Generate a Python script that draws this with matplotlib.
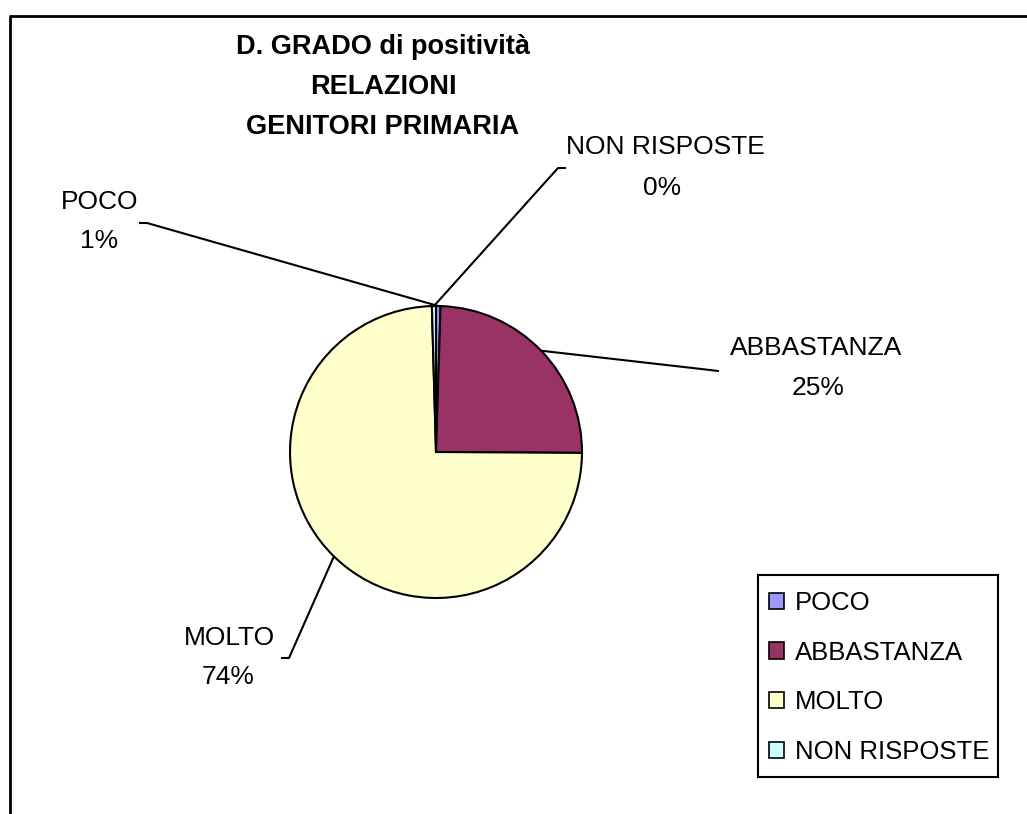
import numpy as np
import matplotlib
matplotlib.use("Agg")
import matplotlib.pyplot as plt
from matplotlib.patches import Patch, Rectangle

categories = ["POCO", "ABBASTANZA", "MOLTO", "NON RISPOSTE"]
values = [0.5, 24.6, 74.45, 0.45]
pct_labels = ["1%", "25%", "74%", "0%"]
colors = ["#9999FF", "#993366", "#FFFFCC", "#CCFFFF"]
title_lines = ["D. GRADO di positività", "RELAZIONI", "GENITORI PRIMARIA"]

W, H = 1027, 814
fig = plt.figure(figsize=(W / 100, H / 100), dpi=100)
plt.rcParams['font.family'] = ['Liberation Sans', 'DejaVu Sans']

# overlay axes in pixel coords
ov = fig.add_axes([0, 0, 1, 1])
ov.set_xlim(0, W)
ov.set_ylim(H, 0)
ov.axis("off")

cx, cy, R = 436, 452, 146
pa = fig.add_axes([(cx - R) / W, (H - cy - R) / H, 2 * R / W, 2 * R / H])
wedges, _ = pa.pie(values, colors=colors, startangle=90, counterclock=False,
                   wedgeprops=dict(edgecolor="black", linewidth=1.5))
pa.set_xlim(-1, 1)
pa.set_ylim(-1, 1)
pa.set_aspect("auto")
pa.axis("off")

# frame
ov.plot([10, 10], [H, 16], color="black", lw=2, solid_capstyle="butt")
ov.plot([9, W], [16, 16], color="black", lw=2, solid_capstyle="butt")

fs = 19
for i, (t, yy) in enumerate(zip(title_lines, [47, 87, 127])):
    ov.text(383, yy, t, ha="center", va="center", fontsize=fs + 0.5, fontweight="bold")

# label layout: (name center, pct center, tick start, tick end)
layout = {
    "POCO": ((100, 202), (99, 241), (140, 223), (147, 223)),
    "ABBASTANZA": ((816, 348), (818, 388), (718, 371), (710, 370)),
    "MOLTO": ((229, 638), (228, 677), (282, 658), (289, 658)),
    "NON RISPOSTE": ((665, 147), (662, 188), (565, 168), (558, 168)),
}
for w, name, pl in zip(wedges, categories, pct_labels):
    mid = np.deg2rad((w.theta1 + w.theta2) / 2)
    px = cx + R * np.cos(mid)
    py = cy - R * np.sin(mid)
    (nx, ny), (qx, qy), t0, t1 = layout[name]
    ov.plot([t0[0], t1[0], px], [t0[1], t1[1], py], color="black", lw=1.5)
    ov.text(nx, ny, name, ha="center", va="center", fontsize=fs)
    ov.text(qx, qy, pl, ha="center", va="center", fontsize=fs)

# legend box
ov.add_patch(Rectangle((758, 575), 240, 202, facecolor="white",
                       edgecolor="black", linewidth=1.5, zorder=3))
handles = [Patch(facecolor=c, edgecolor="black", linewidth=1.2) for c in colors]
leg = fig.legend(handles, categories, loc="center left",
                 bbox_to_anchor=(769 / W, 1 - 677.5 / H), fontsize=18.5,
                 frameon=False,
                 handlelength=0.6, handleheight=0.6, handletextpad=0.4,
                 labelspacing=1.0, borderpad=0, borderaxespad=0)
leg.set_zorder(5)

fig.savefig("out.png", dpi=100)
